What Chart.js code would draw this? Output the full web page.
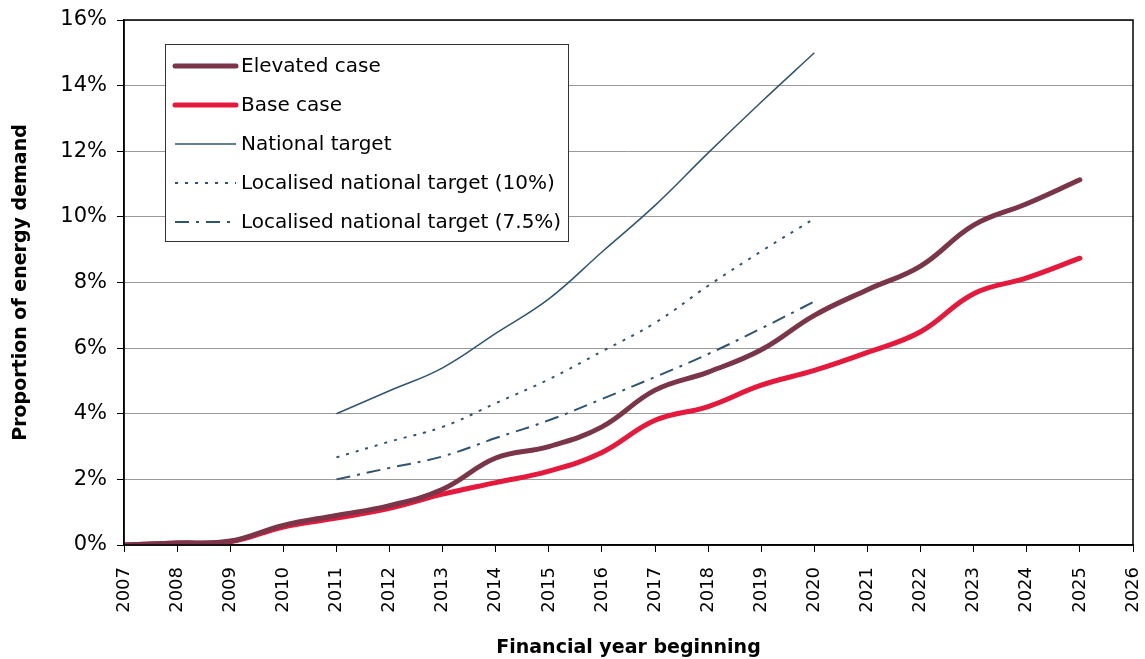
<!DOCTYPE html>
<html>
<head>
<meta charset="utf-8">
<script src="https://cdn.jsdelivr.net/npm/chart.js@4"></script>
<style>
  html, body { margin: 0; padding: 0; background: #fff; }
  #wrap { width: 1145px; height: 659px; }
</style>
</head>
<body>
<div id="wrap"><canvas id="chart" width="1145" height="659"></canvas></div>
<script>
// Years on the x axis and projected shares (% of energy demand)
const years = [2007, 2008, 2009, 2010, 2011, 2012, 2013, 2014, 2015, 2016,
  2017, 2018, 2019, 2020, 2021, 2022, 2023, 2024, 2025];
const elevatedCase = [0, 0.06, 0.12, 0.6, 0.9, 1.2, 1.7, 2.65, 3.0, 3.6,
  4.72, 5.27, 5.95, 7.0, 7.78, 8.5, 9.75, 10.4, 11.13];
const baseCase = [0, 0.06, 0.1, 0.55, 0.82, 1.12, 1.55, 1.9, 2.25, 2.82,
  3.8, 4.22, 4.87, 5.32, 5.87, 6.5, 7.66, 8.14, 8.74];

const targetYears = [2011, 2012, 2013, 2014, 2015, 2016, 2017, 2018, 2019, 2020];
const nationalTarget = [4.0, 4.7, 5.4, 6.45, 7.5, 8.93, 10.35, 11.95, 13.5, 15.0];
const localTarget10 = [2.67, 3.15, 3.6, 4.32, 5.05, 5.9, 6.77, 7.9, 8.95, 9.95];
const localTarget75 = [2.0, 2.35, 2.7, 3.26, 3.8, 4.45, 5.12, 5.82, 6.6, 7.42];

const yTicks = [0, 2, 4, 6, 8, 10, 12, 14, 16];

const targetColour = "#2F5470";
const fontFamily = "'DejaVu Sans', 'Liberation Sans', sans-serif";

function pairUp(xs, ys) {
  return xs.map((x, i) => ({ x: x, y: ys[i] }));
}

// Frame around the plot area plus the boxed legend in its top-left corner
const framePlugin = {
  id: "frame",
  afterDatasetsDraw(chart) {
    const ctx = chart.ctx;
    const a = chart.chartArea;
    ctx.save();
    ctx.strokeStyle = "#000";
    ctx.lineWidth = 1.5;
    ctx.strokeRect(a.left, a.top, a.right - a.left, a.bottom - a.top);

    // legend box
    const bx = 165.5, by = 44.5, bw = 403, bh = 197;
    ctx.fillStyle = "#fff";
    ctx.fillRect(bx, by, bw, bh);
    ctx.strokeStyle = "#333";
    ctx.lineWidth = 1;
    ctx.strokeRect(bx, by, bw, bh);

    ctx.font = "20px " + fontFamily;
    ctx.textBaseline = "middle";
    chart.data.datasets.forEach((ds, i) => {
      const y = 66 + i * 39;
      ctx.beginPath();
      ctx.strokeStyle = ds.borderColor;
      ctx.lineWidth = ds.borderWidth;
      ctx.lineCap = ds.borderWidth > 3 ? "round" : "butt";
      ctx.setLineDash(ds.borderDash || []);
      ctx.moveTo(175, y);
      ctx.lineTo(236, y);
      ctx.stroke();
      ctx.setLineDash([]);
      ctx.fillStyle = "#000";
      ctx.fillText(ds.label, 241, y + 1);
    });
    ctx.restore();
  }
};

const ctx = document.getElementById("chart").getContext("2d");
new Chart(ctx, {
  type: "line",
  data: {
    datasets: [
      {
        label: "Elevated case",
        data: pairUp(years, elevatedCase),
        borderColor: "#7A3548",
        borderWidth: 5,
        borderCapStyle: "round",
      },
      {
        label: "Base case",
        data: pairUp(years, baseCase),
        borderColor: "#E5193B",
        borderWidth: 5,
        borderCapStyle: "round",
      },
      {
        label: "National target",
        data: pairUp(targetYears, nationalTarget),
        borderColor: targetColour,
        borderWidth: 1.5,
      },
      {
        label: "Localised national target (10%)",
        data: pairUp(targetYears, localTarget10),
        borderColor: targetColour,
        borderWidth: 2,
        borderDash: [3, 7],
      },
      {
        label: "Localised national target (7.5%)",
        data: pairUp(targetYears, localTarget75),
        borderColor: targetColour,
        borderWidth: 2,
        borderDash: [14, 7, 3, 7],
      },
    ],
  },
  options: {
    responsive: false,
    animation: false,
    layout: { padding: { left: 10, right: 12, top: 20, bottom: 0 } },
    elements: {
      point: { radius: 0 },
      line: { tension: 0.4, fill: false },
    },
    plugins: {
      legend: { display: false },
      tooltip: { enabled: false },
    },
    scales: {
      x: {
        type: "linear",
        min: 2007,
        max: 2026,
        afterFit(scale) {
          scale.height = 114;
          scale.paddingLeft = 0;
          scale.paddingRight = 0;
        },
        afterBuildTicks(scale) {
          const t = [];
          for (let y = 2007; y <= 2026; y++) t.push({ value: y });
          scale.ticks = t;
        },
        grid: {
          display: true,
          drawOnChartArea: false,
          drawTicks: true,
          tickLength: 7,
          color: "#000",
        },
        border: { color: "#000", width: 1.5 },
        ticks: {
          minRotation: 90,
          maxRotation: 90,
          padding: 15,
          color: "#000",
          font: { family: fontFamily, size: 18 },
          callback: (v) => String(v),
        },
        title: {
          display: true,
          text: "Financial year beginning",
          color: "#000",
          font: { family: fontFamily, size: 19, weight: "bold" },
          padding: { top: 14, bottom: 0 },
        },
      },
      y: {
        min: 0,
        max: 16,
        afterFit(scale) {
          scale.width = 114;
          scale.paddingTop = 0;
          scale.paddingBottom = 0;
        },
        afterBuildTicks(scale) {
          scale.ticks = yTicks.map((v) => ({ value: v }));
        },
        grid: {
          color: "#9A9A9A",
          lineWidth: 1,
          tickLength: 7,
          tickColor: "#000",
        },
        border: { color: "#000", width: 1.5 },
        ticks: {
          padding: 10,
          color: "#000",
          font: { family: fontFamily, size: 21 },
          callback: (v) => v + "%",
        },
        title: {
          display: true,
          text: "Proportion of energy demand",
          color: "#000",
          font: { family: fontFamily, size: 19, weight: "bold" },
          padding: { top: 0, bottom: 0 },
        },
      },
    },
  },
  plugins: [framePlugin],
});
</script>
</body>
</html>
